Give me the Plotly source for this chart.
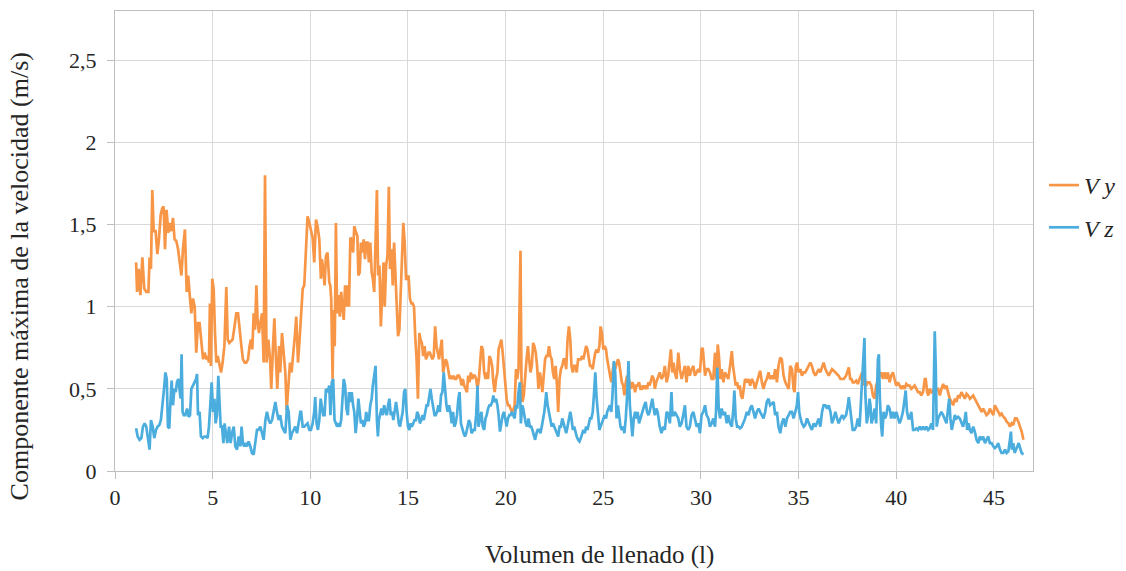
import plotly.graph_objects as go

# ---------------- data ----------------
# Vy : volume (l) and maximum velocity component (m/s)
vy_vol = [1.08,1.13,1.21,1.30,1.40,1.50,1.60,1.71,1.77,1.84,1.91,1.98,2.08,2.17,2.25,2.34,2.42,2.49,2.56,2.64,
          2.73,2.80,2.88,2.97,3.05,3.14,3.23,3.31,3.40,3.48,3.58,3.67,3.75,3.84,3.91,3.99,4.08,4.16,4.25,4.33,
          4.42,4.51,4.59,4.68,4.74,4.81,4.86,4.91,4.98,5.05,5.12,5.19,5.26,5.34,5.43,5.51,5.60,5.70,5.77,5.85,
          5.94,6.02,6.11,6.21,6.30,6.38,6.47,6.55,6.64,6.72,6.81,6.89,6.96,7.03,7.10,7.17,7.24,7.30,7.37,7.44,
          7.53,7.61,7.68,7.76,7.85,7.94,8.00,8.09,8.16,8.24,8.31,8.40,8.46,8.55,8.63,8.72,8.79,8.87,8.96,9.04,
          9.13,9.22,9.28,9.37,9.45,
          9.53,9.61,9.69,9.78,9.86,9.95,10.03,10.12,10.20,10.29,10.37,10.46,10.54,10.59,10.66,10.73,10.80,10.88,10.97,11.02,
          11.07,11.14,11.19,11.25,11.31,11.37,11.44,11.51,11.58,11.64,11.71,11.78,11.85,11.92,11.98,12.05,12.12,12.19,12.25,12.32,
          12.41,12.46,12.53,12.59,12.66,12.73,12.80,12.86,12.93,13.00,13.07,13.14,13.20,13.27,13.34,13.41,13.47,13.54,13.61,13.68,
          13.75,13.81,13.88,13.95,14.02,14.08,14.15,14.22,14.29,14.36,14.42,14.49,14.56,14.63,14.69,14.76,14.83,14.90,14.97,15.03,
          15.10,15.17,15.24,15.31,15.37,15.44,15.51,15.58,15.64,15.71,15.78,15.85,15.92,15.98,16.05,16.12,16.19,16.25,16.32,16.39,
          16.46,16.53,16.59,16.66,16.73,16.80,16.86,16.93,17.00,17.07,17.14,17.20,17.27,17.34,17.41,17.47,17.54,17.61,17.68,17.75,
          17.81,17.88,17.95,18.02,18.08,18.15,18.22,18.29,18.36,
          18.42,18.49,18.56,18.63,18.69,18.76,18.83,18.90,18.97,19.03,19.10,19.17,19.24,19.31,19.37,19.44,19.51,19.58,19.64,19.71,
          19.78,19.85,19.92,19.98,20.05,20.12,20.19,20.25,20.32,20.39,20.46,20.53,20.59,20.66,20.71,20.76,20.81,20.86,20.93,21.00,
          21.07,21.14,21.20,21.27,21.34,21.41,21.47,21.54,21.61,21.68,21.75,21.81,21.88,21.95,22.02,22.08,22.15,22.22,22.29,22.36,
          22.42,22.49,22.56,22.63,22.69,22.76,22.83,22.90,22.97,23.03,23.10,23.17,23.24,23.31,23.37,23.44,23.51,23.58,23.64,23.71,
          23.78,23.85,23.92,23.98,24.05,24.12,24.19,24.25,24.32,24.39,24.46,24.53,24.59,24.66,24.73,24.80,24.86,24.93,25.00,25.07,
          25.14,25.20,25.27,25.34,25.41,25.47,25.54,25.61,25.68,25.75,25.81,25.88,25.95,26.02,26.08,26.15,26.22,26.29,26.36,26.42,
          26.49,26.56,26.63,26.69,26.76,26.83,26.90,26.97,27.03,27.10,27.17,27.24,27.31,27.37,27.44,27.51,27.58,27.64,27.71,27.78,
          27.89,27.98,28.07,28.15,28.24,28.32,28.41,28.46,28.53,28.60,28.66,28.75,28.84,28.92,29.01,29.09,29.18,29.26,29.35,29.43,
          29.52,29.61,29.69,29.78,29.86,29.95,30.03,30.09,30.15,30.21,30.29,30.38,30.46,30.55,30.63,30.72,30.79,30.86,30.92,30.99,
          31.06,31.15,31.23,31.32,31.40,31.49,31.58,31.64,31.71,31.78,31.85,31.92,31.99,32.05,32.12,32.19,32.26,32.35,32.43,32.52,
          32.60,32.69,32.77,32.86,32.95,33.03,33.12,33.20,33.29,33.37,33.46,33.54,33.63,33.72,33.80,33.89,33.97,34.06,34.14,34.23,
          34.32,34.40,34.49,34.57,34.66,34.74,34.79,34.86,34.93,35.00,35.09,35.17,35.26,35.34,35.43,35.51,35.60,35.68,35.77,35.86,
          35.94,36.03,36.11,36.20,36.28,36.37,36.46,36.54,36.63,36.71,36.80,36.88,36.97,37.05,37.14,37.23,37.31,
          37.43,37.52,37.57,37.64,37.71,37.77,37.86,37.95,38.03,38.12,38.20,38.25,38.32,38.39,38.46,38.54,38.63,38.72,38.80,38.89,
          38.97,39.06,39.14,39.23,39.32,39.40,39.49,39.57,39.66,39.74,39.83,39.91,40.00,40.09,40.17,40.26,40.34,40.43,40.51,40.60,
          40.68,40.77,40.86,40.94,41.03,41.11,41.20,41.28,41.37,41.46,41.51,41.58,41.64,41.71,41.80,41.88,41.97,42.05,42.14,42.23,
          42.31,42.40,42.48,42.57,42.65,42.74,42.83,42.91,43.00,43.08,43.17,43.25,43.34,43.42,43.51,43.60,43.68,43.77,43.85,43.94,
          44.02,44.11,44.20,44.28,44.37,44.45,44.54,44.62,44.71,44.79,44.88,44.97,45.05,45.14,45.22,45.31,45.39,45.48,45.57,45.65,
          45.74,45.82,45.91,45.99,46.08,46.16,46.25,46.34,46.42,46.51]
vy = [1.27,1.09,1.23,1.07,1.30,1.11,1.09,1.09,1.30,1.23,1.71,1.46,1.46,1.32,1.41,1.56,1.60,1.61,1.35,1.59,
      1.45,1.51,1.46,1.54,1.41,1.40,1.35,1.27,1.19,1.35,1.47,1.09,1.19,1.05,0.96,1.05,1.00,0.72,0.90,0.90,
      0.78,0.68,0.72,0.68,0.70,0.66,1.02,0.64,1.17,1.11,0.84,0.66,0.70,0.64,0.60,0.66,0.76,1.12,0.80,0.78,
      0.79,0.80,0.87,0.96,0.96,0.84,0.76,0.68,0.66,0.66,0.68,0.76,0.80,0.74,0.96,0.86,1.13,0.92,0.84,0.90,
      0.96,0.66,1.80,0.66,0.80,0.68,0.50,0.76,0.93,0.68,0.50,0.76,0.60,0.84,0.70,0.60,0.37,0.52,0.66,0.60,
      0.70,0.84,0.94,0.66,0.80,
      0.94,1.11,1.13,1.39,1.55,1.51,1.46,1.42,1.27,1.53,1.49,1.41,1.17,1.29,1.23,1.13,1.31,1.33,1.15,1.13,
      1.05,0.56,0.98,0.76,1.51,0.96,1.07,0.94,1.09,0.98,0.92,1.13,1.00,1.13,1.00,1.42,1.41,1.33,1.49,1.46,
      1.43,1.19,1.21,1.39,1.33,1.41,1.29,1.39,1.39,1.27,1.39,1.21,1.17,1.09,1.49,1.71,1.19,1.25,0.88,1.09,
      1.27,1.00,1.25,1.31,1.73,1.23,1.35,1.13,1.39,1.19,1.05,0.82,0.86,1.07,1.19,1.51,1.39,1.17,1.17,1.19,
      1.05,1.02,1.02,1.00,0.82,0.68,0.44,0.84,0.80,0.78,0.70,0.76,0.68,0.70,0.72,0.72,0.70,0.68,0.70,0.88,
      0.76,0.70,0.68,0.74,0.80,0.60,0.64,0.68,0.66,0.60,0.56,0.58,0.56,0.58,0.56,0.56,0.58,0.58,0.56,0.52,
      0.56,0.52,0.50,0.48,0.58,0.54,0.60,0.56,0.58,
      0.58,0.56,0.50,0.56,0.64,0.76,0.74,0.60,0.56,0.60,0.56,0.70,0.68,0.64,0.54,0.48,0.56,0.60,0.74,0.78,
      0.80,0.72,0.60,0.52,0.44,0.40,0.40,0.38,0.36,0.37,0.40,0.62,0.56,0.62,0.90,1.34,0.56,0.42,0.46,0.60,
      0.68,0.76,0.68,0.60,0.64,0.78,0.76,0.72,0.64,0.50,0.60,0.56,0.48,0.56,0.68,0.70,0.70,0.76,0.70,0.68,
      0.60,0.56,0.64,0.52,0.36,0.56,0.62,0.64,0.68,0.68,0.62,0.80,0.88,0.80,0.64,0.60,0.64,0.64,0.60,0.68,
      0.68,0.68,0.70,0.68,0.72,0.76,0.74,0.68,0.64,0.64,0.62,0.68,0.72,0.74,0.72,0.76,0.88,0.84,0.74,0.76,
      0.74,0.68,0.64,0.60,0.54,0.60,0.66,0.62,0.66,0.68,0.66,0.60,0.54,0.52,0.46,0.54,0.58,0.56,0.54,0.50,
      0.54,0.52,0.48,0.52,0.52,0.54,0.50,0.50,0.52,0.50,0.52,0.50,0.54,0.52,0.56,0.58,0.56,0.50,0.54,0.56,
      0.60,0.56,0.58,0.64,0.54,0.58,0.70,0.74,0.60,0.66,0.60,0.56,0.72,0.62,0.56,0.60,0.64,0.54,0.64,0.58,
      0.62,0.64,0.58,0.60,0.62,0.60,0.74,0.75,0.66,0.58,0.62,0.62,0.60,0.56,0.56,0.72,0.56,0.77,0.70,0.56,
      0.62,0.54,0.60,0.58,0.56,0.64,0.73,0.64,0.58,0.52,0.54,0.50,0.52,0.46,0.44,0.50,0.56,0.54,0.56,0.52,
      0.56,0.54,0.50,0.54,0.58,0.61,0.54,0.50,0.54,0.56,0.60,0.56,0.58,0.56,0.62,0.54,0.64,0.69,0.68,0.58,
      0.54,0.52,0.50,0.64,0.62,0.50,0.48,0.64,0.66,0.60,0.62,0.58,0.60,0.60,0.62,0.64,0.66,0.64,0.60,0.58,
      0.60,0.62,0.60,0.64,0.66,0.62,0.60,0.58,0.60,0.62,0.61,0.60,0.59,0.58,0.56,0.56,0.56,
      0.58,0.62,0.63,0.56,0.56,0.54,0.54,0.55,0.53,0.56,0.59,0.60,0.52,0.56,0.52,0.54,0.54,0.52,0.46,0.44,
      0.52,0.56,0.58,0.60,0.56,0.60,0.56,0.60,0.54,0.58,0.60,0.56,0.52,0.54,0.52,0.50,0.52,0.50,0.53,0.52,
      0.52,0.50,0.51,0.52,0.50,0.48,0.48,0.46,0.48,0.56,0.56,0.48,0.46,0.50,0.48,0.49,0.48,0.50,0.50,0.46,
      0.50,0.53,0.50,0.52,0.48,0.44,0.42,0.40,0.44,0.42,0.46,0.45,0.48,0.46,0.44,0.47,0.46,0.44,0.45,0.46,
      0.44,0.42,0.40,0.38,0.36,0.38,0.36,0.34,0.35,0.38,0.36,0.34,0.40,0.38,0.36,0.34,0.35,0.33,0.32,0.30,
      0.29,0.27,0.29,0.28,0.32,0.32,0.30,0.27,0.24,0.19]

# Vz : volume (l) and maximum velocity component (m/s)
vz_vol = [1.08,1.16,1.26,1.35,1.43,1.52,1.60,1.69,1.77,1.84,1.93,2.01,2.10,2.18,2.27,2.35,2.44,2.51,2.58,2.65,
          2.71,2.78,2.83,2.90,2.97,3.04,3.11,3.17,3.24,3.31,3.36,3.41,3.46,3.52,3.60,3.69,3.77,3.84,3.91,3.99,
          4.06,4.15,4.20,4.25,4.33,4.40,4.49,4.57,4.66,4.74,4.81,4.88,4.95,5.02,5.09,5.15,5.22,5.29,5.34,5.41,
          5.48,5.55,5.61,5.68,5.75,5.84,5.92,5.99,6.08,6.16,6.25,6.33,6.42,6.48,6.55,6.62,6.69,6.76,6.84,6.93,
          7.01,7.10,7.18,7.27,7.35,7.44,7.53,7.61,7.70,7.78,7.87,7.95,8.04,8.12,8.21,8.29,8.38,8.46,8.55,8.63,
          8.72,8.81,8.89,8.98,9.06,9.15,9.23,9.32,9.40,9.49,
          9.53,9.61,9.69,9.78,9.86,9.95,10.03,10.12,10.20,10.25,10.32,10.39,10.46,10.53,10.59,10.66,10.73,10.80,10.88,10.97,
          11.03,11.10,11.17,11.24,11.31,11.37,11.44,11.51,11.58,11.64,11.71,11.78,11.85,11.92,11.98,12.05,12.12,12.19,12.25,12.32,
          12.39,12.46,12.53,12.59,12.66,12.73,12.80,12.86,12.93,13.00,13.07,13.14,13.20,13.27,13.34,13.41,13.46,13.51,13.58,13.64,
          13.71,13.78,13.85,13.92,13.98,14.05,14.12,14.19,14.25,14.32,14.39,14.46,14.53,14.59,14.66,14.73,14.80,14.86,14.93,15.00,
          15.07,15.14,15.20,15.27,15.34,15.41,15.47,15.54,15.61,15.68,15.75,15.81,15.88,15.95,16.02,16.08,16.15,16.22,16.29,16.36,
          16.42,16.49,16.56,16.63,16.69,16.76,16.83,16.90,16.97,17.03,17.10,17.17,17.24,17.31,17.37,17.44,17.51,17.58,17.64,17.71,
          17.78,17.85,17.92,17.98,18.05,18.12,18.19,18.25,18.36,
          18.42,18.49,18.56,18.61,18.69,18.76,18.83,18.90,18.97,19.03,19.10,19.17,19.24,19.31,19.37,19.44,19.51,19.58,19.64,19.71,
          19.78,19.85,19.92,19.98,20.05,20.12,20.19,20.25,20.32,20.39,20.46,20.53,20.59,20.66,20.73,20.78,20.85,20.90,20.97,21.03,
          21.10,21.17,21.24,21.31,21.37,21.44,21.51,21.58,21.64,21.71,21.78,21.85,21.92,21.98,22.05,22.08,22.15,22.22,22.29,22.36,
          22.42,22.49,22.56,22.63,22.69,22.76,22.83,22.90,22.97,23.03,23.10,23.17,23.24,23.31,23.37,23.44,23.51,23.58,23.64,23.71,
          23.78,23.85,23.92,23.98,24.05,24.12,24.19,24.25,24.32,24.39,24.46,24.53,24.59,24.66,24.73,24.80,24.86,24.93,25.00,25.07,
          25.14,25.20,25.27,25.34,25.41,25.47,25.54,25.61,25.68,25.75,25.81,25.88,25.95,26.02,26.08,26.15,26.22,26.29,26.36,26.42,
          26.49,26.56,26.63,26.69,26.76,26.83,26.90,26.97,27.03,27.10,27.17,27.24,27.31,27.37,27.44,27.51,27.58,27.64,27.71,27.78,
          27.89,27.98,28.07,28.15,28.24,28.32,28.41,28.49,28.54,28.61,28.66,28.75,28.84,28.92,29.01,29.09,29.18,29.26,29.35,29.43,
          29.52,29.61,29.69,29.78,29.86,29.95,30.03,30.12,30.21,30.29,30.38,30.46,30.55,30.63,30.72,30.77,30.84,30.91,30.98,31.06,
          31.15,31.23,31.32,31.40,31.49,31.58,31.66,31.71,31.78,31.85,31.92,32.00,32.09,32.17,32.26,32.35,32.43,32.52,32.60,32.69,
          32.77,32.86,32.95,33.03,33.12,33.20,33.29,33.37,33.46,33.54,33.63,33.72,33.80,33.89,33.97,34.06,34.14,34.23,34.32,34.40,
          34.49,34.57,34.66,34.74,34.83,34.91,34.97,35.03,35.10,35.17,35.26,35.34,35.43,35.51,35.60,35.68,35.77,35.86,35.94,36.03,
          36.11,36.20,36.28,36.37,36.46,36.54,36.63,36.71,36.80,36.88,36.97,37.05,37.14,37.23,37.31,
          37.43,37.52,37.57,37.64,37.71,37.77,37.86,37.95,38.03,38.12,38.20,38.29,38.37,38.42,38.49,38.56,38.63,38.68,38.73,38.80,
          38.89,38.97,39.06,39.11,39.16,39.23,39.28,39.35,39.42,39.49,39.57,39.66,39.74,39.83,39.91,40.00,40.09,40.17,40.26,40.34,
          40.43,40.48,40.55,40.62,40.68,40.77,40.86,40.94,41.03,41.11,41.20,41.28,41.37,41.46,41.54,41.63,41.71,41.80,41.88,41.97,
          42.02,42.07,42.14,42.23,42.31,42.40,42.48,42.57,42.65,42.71,42.77,42.84,42.91,43.00,43.08,43.17,43.25,43.34,43.42,43.51,
          43.56,43.63,43.70,43.77,43.85,43.94,44.02,44.11,44.20,44.28,44.37,44.45,44.54,44.62,44.71,44.79,44.88,44.97,45.05,45.14,
          45.22,45.31,45.39,45.48,45.57,45.65,45.74,45.82,45.87,45.92,45.99,46.06,46.13,46.20,46.27,46.34,46.42,46.51]
vz = [0.26,0.21,0.19,0.20,0.27,0.29,0.27,0.19,0.13,0.31,0.27,0.20,0.25,0.27,0.28,0.31,0.40,0.50,0.60,0.56,
      0.27,0.26,0.40,0.55,0.40,0.50,0.48,0.54,0.56,0.48,0.44,0.71,0.36,0.34,0.34,0.38,0.33,0.34,0.50,0.52,
      0.54,0.56,0.59,0.34,0.36,0.21,0.20,0.21,0.21,0.20,0.27,0.40,0.54,0.36,0.44,0.29,0.34,0.58,0.44,0.27,
      0.27,0.17,0.29,0.23,0.17,0.27,0.17,0.23,0.27,0.15,0.13,0.21,0.15,0.27,0.17,0.15,0.17,0.15,0.18,0.15,
      0.11,0.10,0.17,0.25,0.25,0.27,0.23,0.19,0.31,0.36,0.31,0.29,0.31,0.36,0.42,0.36,0.31,0.34,0.27,0.25,
      0.23,0.40,0.36,0.19,0.23,0.25,0.27,0.23,0.29,0.36,
      0.36,0.27,0.27,0.28,0.29,0.25,0.25,0.29,0.36,0.45,0.29,0.25,0.31,0.44,0.40,0.34,0.34,0.50,0.48,0.52,
      0.34,0.54,0.56,0.31,0.29,0.27,0.29,0.27,0.31,0.44,0.56,0.52,0.38,0.34,0.48,0.42,0.48,0.40,0.36,0.23,
      0.31,0.44,0.36,0.29,0.31,0.27,0.29,0.36,0.31,0.31,0.40,0.44,0.52,0.60,0.64,0.31,0.21,0.31,0.36,0.38,
      0.34,0.40,0.36,0.34,0.40,0.44,0.34,0.36,0.31,0.38,0.42,0.36,0.29,0.27,0.31,0.36,0.48,0.50,0.36,0.27,
      0.25,0.29,0.27,0.29,0.31,0.31,0.36,0.34,0.29,0.31,0.34,0.31,0.36,0.40,0.40,0.46,0.50,0.44,0.38,0.34,
      0.34,0.36,0.40,0.36,0.46,0.48,0.60,0.48,0.40,0.36,0.40,0.36,0.29,0.36,0.27,0.29,0.34,0.44,0.48,0.29,
      0.25,0.23,0.21,0.23,0.27,0.31,0.29,0.23,0.25,
      0.25,0.34,0.52,0.27,0.32,0.36,0.27,0.25,0.32,0.34,0.38,0.40,0.40,0.42,0.46,0.42,0.44,0.40,0.34,0.24,
      0.29,0.34,0.36,0.32,0.27,0.32,0.34,0.34,0.36,0.34,0.32,0.40,0.38,0.48,0.54,0.29,0.40,0.38,0.32,0.29,
      0.27,0.32,0.27,0.27,0.25,0.21,0.19,0.23,0.25,0.25,0.23,0.27,0.32,0.36,0.44,0.48,0.40,0.36,0.32,0.27,
      0.29,0.27,0.25,0.23,0.21,0.27,0.27,0.32,0.29,0.27,0.23,0.27,0.32,0.36,0.32,0.25,0.27,0.23,0.21,0.19,
      0.18,0.20,0.23,0.25,0.23,0.27,0.25,0.29,0.32,0.32,0.36,0.48,0.60,0.44,0.32,0.25,0.27,0.29,0.32,0.34,
      0.32,0.36,0.38,0.40,0.36,0.46,0.67,0.60,0.32,0.40,0.34,0.27,0.25,0.27,0.23,0.32,0.46,0.67,0.40,0.29,
      0.21,0.32,0.36,0.32,0.36,0.29,0.32,0.34,0.38,0.40,0.42,0.36,0.34,0.36,0.40,0.44,0.38,0.34,0.38,0.36,
      0.27,0.23,0.27,0.25,0.36,0.35,0.29,0.48,0.34,0.34,0.36,0.34,0.32,0.27,0.29,0.34,0.40,0.27,0.25,0.27,
      0.34,0.36,0.32,0.27,0.29,0.23,0.34,0.36,0.40,0.34,0.32,0.27,0.29,0.32,0.27,0.36,0.63,0.38,0.32,0.38,
      0.34,0.36,0.29,0.34,0.29,0.27,0.38,0.49,0.32,0.27,0.27,0.26,0.27,0.29,0.32,0.36,0.34,0.38,0.40,0.36,
      0.32,0.36,0.38,0.36,0.34,0.32,0.36,0.42,0.44,0.40,0.41,0.42,0.34,0.36,0.27,0.23,0.29,0.32,0.27,0.32,
      0.34,0.36,0.36,0.32,0.36,0.40,0.48,0.36,0.32,0.29,0.27,0.28,0.32,0.29,0.27,0.25,0.29,0.27,0.29,0.32,
      0.27,0.36,0.40,0.40,0.38,0.40,0.36,0.29,0.32,0.36,0.32,0.29,0.32,0.34,0.32,
      0.34,0.40,0.45,0.38,0.32,0.25,0.25,0.27,0.32,0.27,0.44,0.60,0.81,0.46,0.29,0.34,0.44,0.40,0.29,0.32,
      0.38,0.29,0.68,0.71,0.44,0.27,0.21,0.36,0.32,0.34,0.40,0.38,0.32,0.36,0.32,0.36,0.32,0.29,0.32,0.36,
      0.44,0.49,0.36,0.32,0.32,0.36,0.25,0.25,0.26,0.25,0.27,0.25,0.27,0.25,0.27,0.25,0.26,0.29,0.25,0.85,
      0.64,0.27,0.32,0.34,0.36,0.34,0.32,0.29,0.38,0.44,0.32,0.25,0.29,0.34,0.32,0.33,0.32,0.29,0.27,0.32,
      0.36,0.25,0.29,0.25,0.23,0.27,0.24,0.19,0.17,0.21,0.19,0.21,0.17,0.19,0.21,0.17,0.17,0.15,0.14,0.15,
      0.17,0.13,0.11,0.11,0.13,0.11,0.12,0.19,0.24,0.13,0.17,0.11,0.13,0.15,0.17,0.14,0.11,0.10]

x_ticks = [0, 5, 10, 15, 20, 25, 30, 35, 40, 45]
y_ticks = [0, 0.5, 1, 1.5, 2, 2.5]
series_names = ["<i>V y</i>", "<i>V z</i>"]
x_title = "Volumen de llenado (l)"
y_title = "Componente máxima de la velocidad (m/s)"

if len(vy_vol) != len(vy) or len(vz_vol) != len(vz):
    raise ValueError(f"length mismatch {len(vy_vol)} {len(vy)} {len(vz_vol)} {len(vz)}")

# ---------------- figure ----------------
FONT = "Liberation Serif"
TXT = "#262626"
GRID = "#D9D9D9"
AXL = "#BFBFBF"

fig = go.Figure()
fig.add_trace(go.Scatter(x=vy_vol, y=vy, mode="lines", name=series_names[0],
                         legendgroup="vy", line=dict(color="#F79646", width=2.7)))
fig.add_trace(go.Scatter(x=vz_vol, y=vz, mode="lines", name=series_names[1],
                         legendgroup="vz", line=dict(color="#4BADDE", width=2.7)))

axis_common = dict(showgrid=True, gridcolor=GRID, gridwidth=1, zeroline=False,
                   showline=True, linecolor=AXL, linewidth=1, mirror=True,
                   ticks="outside", ticklen=7, tickcolor=AXL,
                   tickfont=dict(family=FONT, size=22, color=TXT))

fig.update_layout(
    width=1126, height=571,
    margin=dict(l=115, r=93, t=11, b=100, autoexpand=False),
    paper_bgcolor="white", plot_bgcolor="white",
    separators=",.",
    font=dict(family=FONT, color=TXT),
    xaxis=dict(range=[0, 47], tickvals=x_ticks, **axis_common),
    yaxis=dict(range=[0, 2.8], tickvals=y_ticks, ticklabelstandoff=6, **axis_common),
    legend=dict(x=1.012, y=0.575, xanchor="left", yanchor="middle",
                font=dict(family=FONT, size=24, color=TXT),
                tracegroupgap=8, bgcolor="rgba(0,0,0,0)"),
    annotations=[
        dict(text=x_title, xref="paper", yref="paper", x=0.528, y=-0.183,
             xanchor="center", yanchor="middle", showarrow=False,
             font=dict(family=FONT, size=25, color=TXT)),
        dict(text=y_title, xref="paper", yref="paper", x=-0.103, y=0.424,
             xanchor="center", yanchor="middle", textangle=-90, showarrow=False,
             font=dict(family=FONT, size=26, color=TXT)),
    ],
)

fig.write_html("out.html")
